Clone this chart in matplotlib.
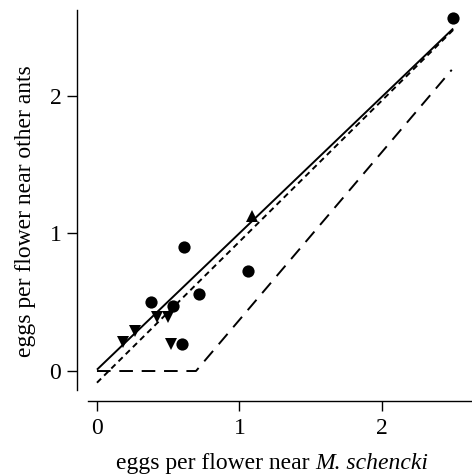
import matplotlib
matplotlib.use("Agg")
import matplotlib.pyplot as plt

# data
circle_x = [0.377, 0.531, 0.61, 0.716, 1.06, 2.498, 0.594]
circle_y = [0.50, 0.475, 0.90, 0.56, 0.73, 2.567, 0.20]
up_x = [1.085]
up_y = [1.13]
down_x = [0.185, 0.267, 0.42, 0.50, 0.52]
down_y = [0.213, 0.29, 0.395, 0.395, 0.20]
solid_x = [0.0, 2.5]
solid_y = [0.01, 2.49]
dotted_x = [0.0, 2.5]
dotted_y = [-0.085, 2.48]
dashed_x = [0.0, 0.695, 2.49]
dashed_y = [0.0, 0.0, 2.19]
xticks = [0, 1, 2]
yticks = [0, 1, 2]
xlabel_plain = 'eggs per flower near '
xlabel_italic = 'M. schencki'
ylabel = 'eggs per flower near other ants'

plt.rcParams['font.family'] = ['Liberation Serif', 'DejaVu Serif']
FS = 17

W, H = 472, 476
fig = plt.figure(figsize=(W / 100, H / 100), dpi=100)
ax = fig.add_axes([87.7 / W, 86 / H, 384 / W, 380 / H])

ax.plot(solid_x, solid_y, color='black', lw=1.4, solid_capstyle='butt')
ax.plot(dotted_x, dotted_y, color='black', lw=1.4, dashes=(3, 2.2))
ax.plot(dashed_x, dashed_y, color='black', lw=1.4, dashes=(7, 4.5))
ax.plot(circle_x, circle_y, 'o', color='black', ms=8.8, mew=0)
ax.plot(up_x, up_y, '^', color='black', ms=8.3, mew=0)
ax.plot(down_x, down_y, 'v', color='black', ms=8.3, mew=0)

ax.set_xlim(-0.065, 2.63)
ax.set_ylim(-0.138, 2.625)
ax.set_xticks(xticks)
ax.set_yticks(yticks)
ax.set_xticklabels([str(t) for t in xticks])
ax.set_yticklabels([str(t) for t in yticks])

for s in ['top', 'right']:
    ax.spines[s].set_visible(False)
ax.spines['left'].set_position(('outward', 7.7))
ax.spines['bottom'].set_position(('outward', 7.9))
for s in ['left', 'bottom']:
    ax.spines[s].set_linewidth(1.0)

ax.tick_params(axis='both', direction='out', length=7.3, width=1.0, labelsize=FS)
ax.tick_params(axis='x', pad=5)
ax.tick_params(axis='y', pad=4)

# y label
fig.text(25.5 / W, (H - 211) / H, ylabel, fontsize=FS, rotation=90,
         ha='center', va='center')

# x label: plain part + italic part, centred together
fig.canvas.draw()
r = fig.canvas.get_renderer()
t1 = fig.text(0, 0, xlabel_plain, fontsize=FS)
t2 = fig.text(0, 0, xlabel_italic, fontsize=FS, style='italic')
w1 = t1.get_window_extent(r).width
w2 = t2.get_window_extent(r).width
cx = 272.5
x0 = cx - (w1 + w2) / 2
base_y = (H - 469) / H
t1.set_position((x0 / W, base_y))
t1.set_va('baseline')
t2.set_position(((x0 + w1) / W, base_y))
t2.set_va('baseline')

fig.savefig('out.png', dpi=100)
